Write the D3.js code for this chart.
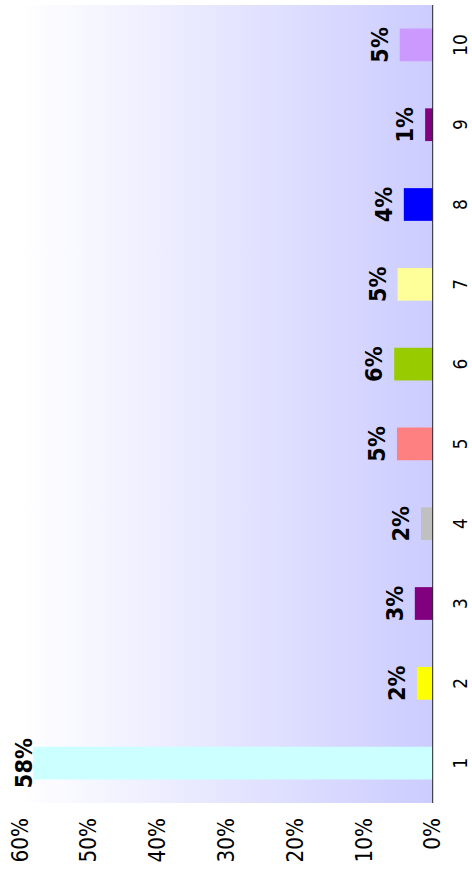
<!DOCTYPE html>
<html>
<head>
<meta charset="utf-8">
<script src="https://cdn.jsdelivr.net/npm/d3@7/dist/d3.min.js"></script>
<style>
  body { margin: 0; background: #fff; }
  text { font-family: "DejaVu Sans", sans-serif; }
</style>
</head>
<body>
<div id="chart"></div>
<script>
var categories = ["1", "2", "3", "4", "5", "6", "7", "8", "9", "10"];
var values = [58.1, 2.3, 2.6, 1.7, 5.2, 5.6, 5.1, 4.2, 1.1, 4.8];
var barColors = ["#ccffff", "#ffff00", "#800080", "#c0c0c0", "#ff8080",
                 "#99cc00", "#ffff99", "#0000ff", "#800080", "#cc99ff"];
var yTicks = [0, 10, 20, 30, 40, 50, 60];

var svgWidth = 472;
var svgHeight = 869;

// the chart is drawn as a normal column chart and then turned 90deg left,
// so "width" here runs along the page height
var chartWidth = svgHeight;
var margin = { left: 66, right: 5 };
var plotTop = 20, plotBottom = 432.7;
// glyphs in the picture are a bit taller than normal
var stretch = 1.12;

var svg = d3.select("#chart")
  .append("svg")
  .attr("width", svgWidth)
  .attr("height", svgHeight);

var defs = svg.append("defs");
var grad = defs.append("linearGradient")
  .attr("id", "bg")
  .attr("x1", 0).attr("y1", 0)
  .attr("x2", 0).attr("y2", 1);
grad.append("stop").attr("offset", "0%").attr("stop-color", "#ffffff");
grad.append("stop").attr("offset", "100%").attr("stop-color", "#ccccff");

var chartGroup = svg.append("g")
  .attr("transform", `translate(0, ${svgHeight}) rotate(-90)`);

var xScale = d3.scaleBand()
  .domain(categories)
  .range([margin.left, chartWidth - margin.right])
  .paddingInner(0.59)
  .paddingOuter(0.295);

var yScale = d3.scaleLinear()
  .domain([0, 60])
  .range([plotBottom, plotTop]);

// plot background
chartGroup.append("rect")
  .attr("x", margin.left)
  .attr("y", plotTop)
  .attr("width", chartWidth - margin.right - margin.left)
  .attr("height", plotBottom - plotTop)
  .attr("fill", "url(#bg)");

// bars
chartGroup.selectAll("rect.bar")
  .data(values)
  .enter()
  .append("rect")
  .attr("class", "bar")
  .attr("x", (d, i) => xScale(categories[i]))
  .attr("y", d => yScale(d))
  .attr("width", xScale.bandwidth())
  .attr("height", d => yScale(0) - yScale(d))
  .attr("fill", (d, i) => barColors[i]);

// value axis labels (no line)
var leftAxis = d3.axisLeft(yScale)
  .tickValues(yTicks)
  .tickSize(0)
  .tickPadding(0)
  .tickFormat(d => d + "%");

var yAxisG = chartGroup.append("g")
  .attr("transform", `translate(${margin.left - 15}, 0)`)
  .call(leftAxis);
yAxisG.select(".domain").remove();
yAxisG.selectAll("text")
  .attr("font-family", "DejaVu Sans")
  .attr("font-size", "20px")
  .attr("fill", "#000")
  .attr("transform", `scale(1, ${stretch})`);

// category axis
var bottomAxis = d3.axisBottom(xScale)
  .tickSize(0)
  .tickPadding(0);

var xAxisG = chartGroup.append("g")
  .attr("transform", `translate(0, ${plotBottom + 21})`)
  .call(bottomAxis);
xAxisG.select(".domain").remove();
xAxisG.selectAll("text")
  .attr("font-family", "DejaVu Sans")
  .attr("font-size", "17px")
  .attr("fill", "#000")
  .attr("transform", `scale(1, ${stretch})`);

chartGroup.append("line")
  .attr("x1", margin.left)
  .attr("x2", chartWidth - margin.right)
  .attr("y1", plotBottom)
  .attr("y2", plotBottom)
  .attr("stroke", "#222");

// value labels above bars, kept inside the plot
var valG = chartGroup.selectAll("g.val")
  .data(values)
  .enter()
  .append("g")
  .attr("class", "val")
  .attr("transform", (d, i) => `translate(${xScale(categories[i]) + xScale.bandwidth() / 2}, ${Math.max(yScale(d) - 12, plotTop + 12)}) scale(1, ${stretch})`);

valG.append("text")
  .attr("text-anchor", "middle")
  .attr("font-family", "DejaVu Sans")
  .attr("font-weight", "bold")
  .attr("font-size", "21px")
  .attr("fill", "#000")
  .text(d => Math.round(d) + "%");
</script>
</body>
</html>
